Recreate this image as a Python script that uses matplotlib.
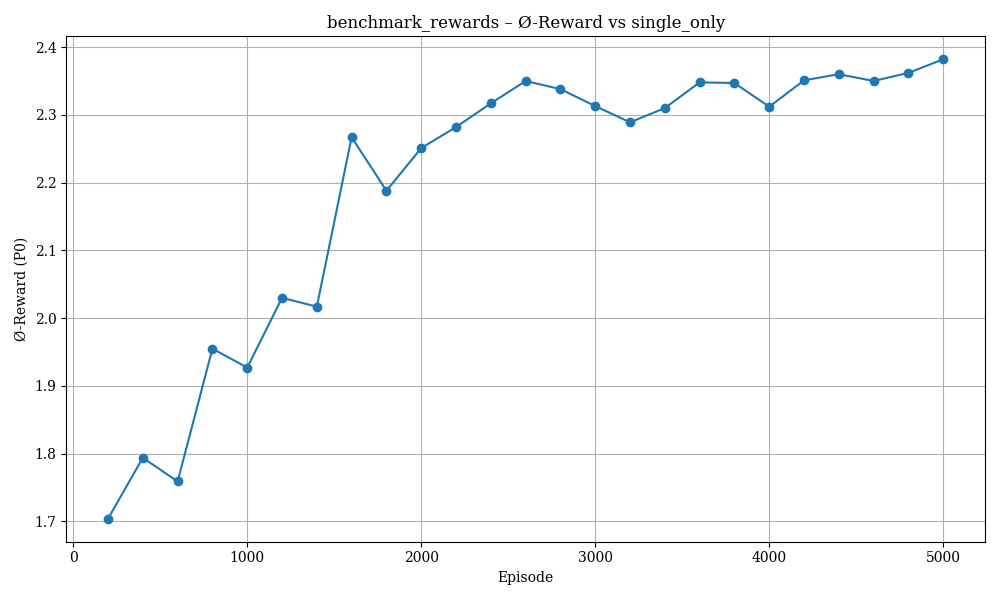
import matplotlib
matplotlib.use("Agg")
import matplotlib.pyplot as plt

plt.rcParams['font.family'] = ['DejaVu Serif']

episodes = [200, 400, 600, 800, 1000, 1200, 1400, 1600, 1800, 2000, 2200, 2400, 2600,
            2800, 3000, 3200, 3400, 3600, 3800, 4000, 4200, 4400, 4600, 4800, 5000]
rewards = [1.704, 1.794, 1.759, 1.955, 1.927, 2.030, 2.017, 2.267, 2.188, 2.251, 2.282,
           2.317, 2.350, 2.338, 2.313, 2.289, 2.310, 2.348, 2.347, 2.312, 2.351, 2.360,
           2.350, 2.362, 2.382]

fig, ax = plt.subplots(figsize=(10, 6), dpi=100)
ax.plot(episodes, rewards, marker='o', color='#1f77b4')
ax.set_title("benchmark_rewards – Ø-Reward vs single_only")
ax.set_xlabel("Episode")
ax.set_ylabel("Ø-Reward (P0)")
ax.grid(True)
fig.tight_layout()
fig.savefig("out.png")
